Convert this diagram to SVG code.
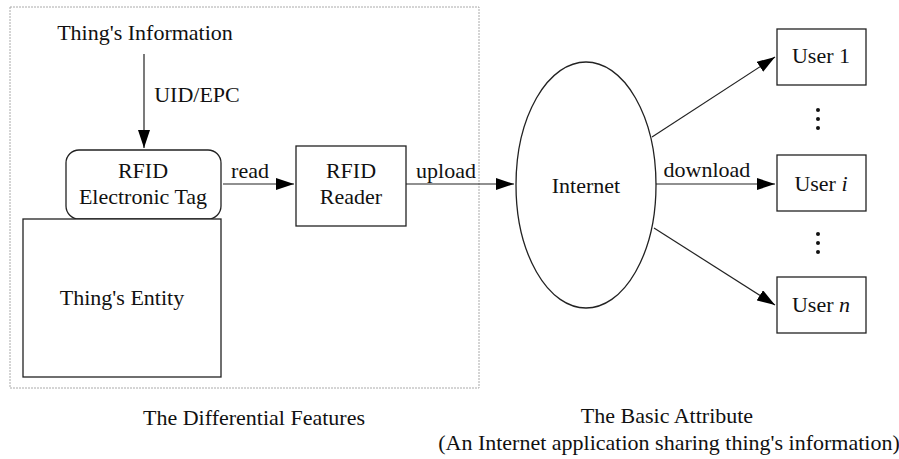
<svg xmlns="http://www.w3.org/2000/svg" width="899" height="459" viewBox="0 0 899 459">
<style>
text{font-family:"Liberation Serif","Times New Roman",serif;font-size:22px;fill:#111;text-anchor:middle}
.box{fill:#fff;stroke:#222;stroke-width:1.3}
.ln{stroke:#222;stroke-width:1.2;fill:none}
</style>
<defs>
<marker id="ah" markerWidth="18" markerHeight="12" refX="18" refY="6" orient="auto" markerUnits="userSpaceOnUse">
<path d="M0,0 L18,6 L0,12 Z" fill="#000"/>
</marker>
</defs>
<rect x="10" y="7" width="469" height="381" fill="none" stroke="#aaa" stroke-width="1" stroke-dasharray="2,1"/>
<g id="connectors">
<line class="ln" x1="144" y1="54" x2="144" y2="148" marker-end="url(#ah)"/>
<line class="ln" x1="223" y1="184" x2="294" y2="184" marker-end="url(#ah)"/>
<line class="ln" x1="406" y1="184" x2="514" y2="184" marker-end="url(#ah)"/>
<line class="ln" x1="652" y1="137" x2="775" y2="57" marker-end="url(#ah)"/>
<line class="ln" x1="656" y1="184" x2="775" y2="184" marker-end="url(#ah)"/>
<line class="ln" x1="654" y1="228" x2="775" y2="305" marker-end="url(#ah)"/>
<text x="197" y="102">UID/EPC</text>
<text x="250" y="178">read</text>
<text x="446" y="178">upload</text>
<text x="707" y="177">download</text>
</g>
<g id="info"><text x="145" y="40">Thing's Information</text></g>
<g id="tag">
<rect class="box" x="66" y="150" width="155" height="69" rx="13"/>
<text x="143" y="178">RFID</text>
<text x="143" y="204">Electronic Tag</text>
</g>
<g id="entity">
<rect class="box" x="23" y="219" width="198" height="158"/>
<text x="122" y="305">Thing's Entity</text>
</g>
<g id="reader">
<rect class="box" x="296" y="146" width="110" height="80"/>
<text x="351" y="178">RFID</text>
<text x="351" y="204">Reader</text>
</g>
<g id="internet">
<ellipse class="box" cx="586" cy="185" rx="70" ry="123"/>
<text x="586" y="193" font-size="24">Internet</text>
</g>
<g id="user1">
<rect class="box" x="777" y="29" width="89" height="56"/>
<text x="821" y="63">User 1</text>
</g>
<g id="useri">
<rect class="box" x="777" y="155" width="89" height="56"/>
<text x="821" y="191">User <tspan font-style="italic">i</tspan></text>
</g>
<g id="usern">
<rect class="box" x="777" y="277" width="89" height="56"/>
<text x="821" y="312">User <tspan font-style="italic">n</tspan></text>
</g>
<g id="dots" fill="#111">
<circle cx="818" cy="110" r="2"/><circle cx="818" cy="119" r="2"/><circle cx="818" cy="128" r="2"/>
<circle cx="818" cy="234" r="2"/><circle cx="818" cy="243" r="2"/><circle cx="818" cy="252" r="2"/>
</g>
<g id="captions">
<text x="254" y="425">The Differential Features</text>
<text x="667" y="423">The Basic Attribute</text>
<text x="669" y="450">(An Internet application sharing thing's information)</text>
</g>
</svg>
